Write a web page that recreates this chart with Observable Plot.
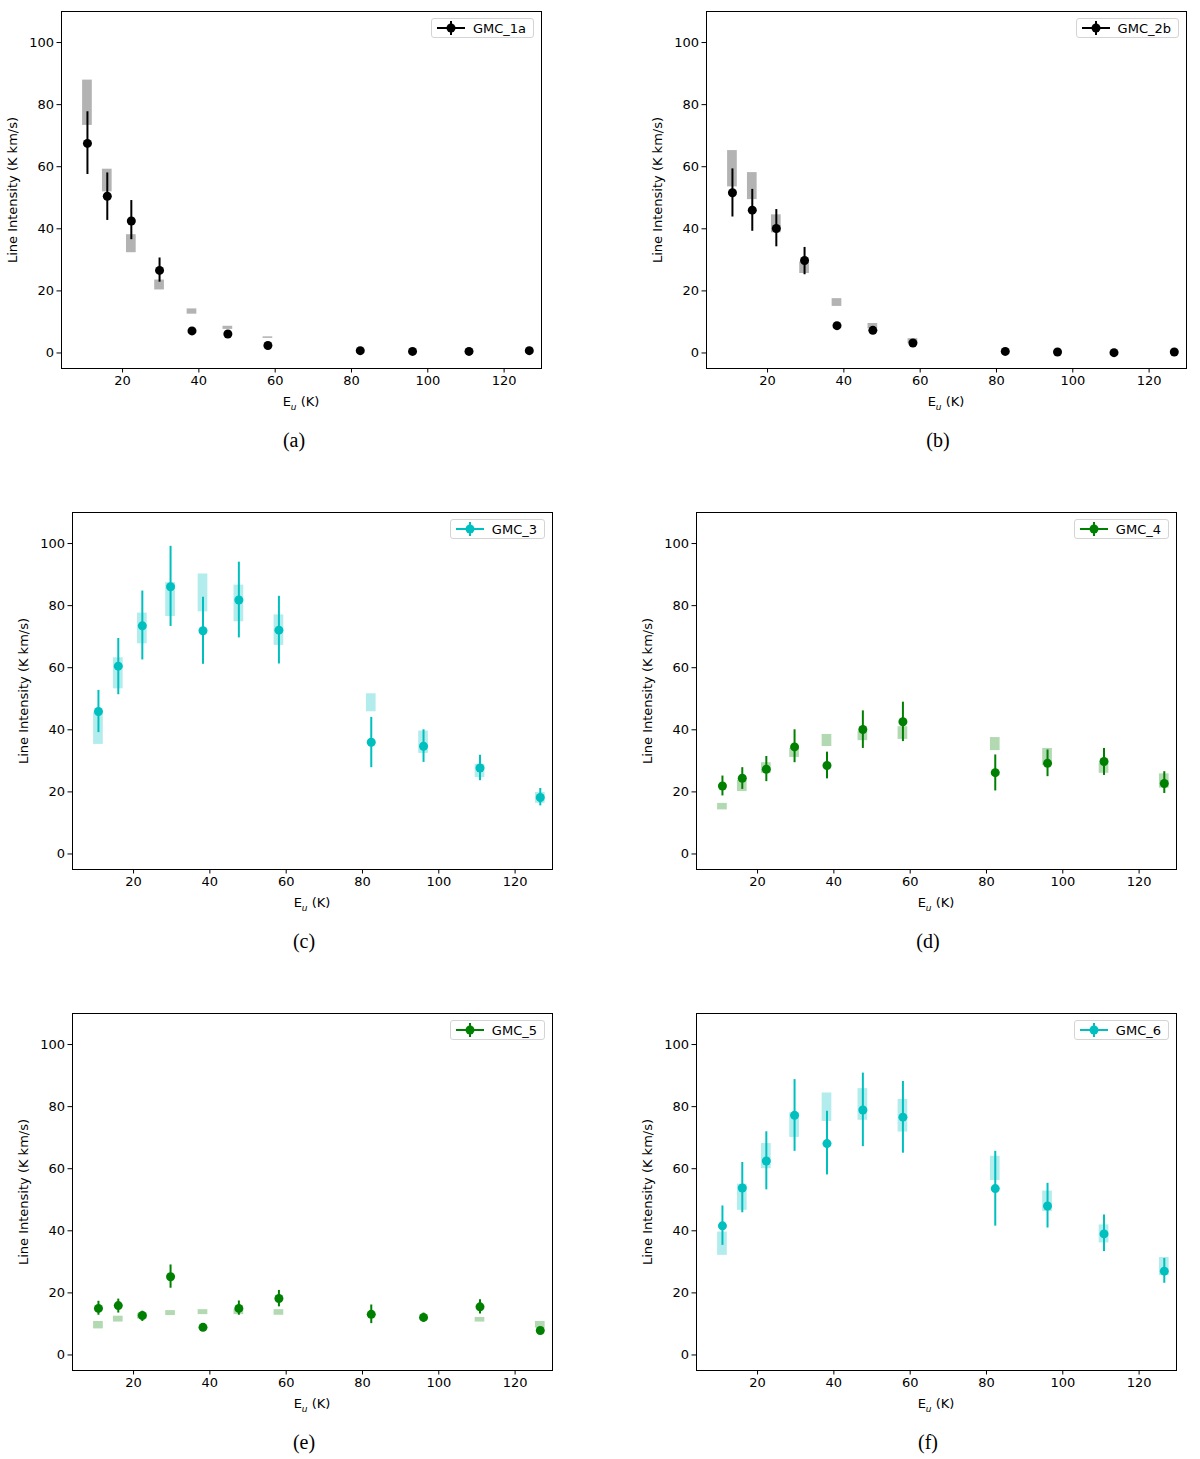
<!DOCTYPE html>
<html>
<head>
<meta charset="utf-8">
<script src="https://cdn.jsdelivr.net/npm/d3@7"></script>
<script src="https://cdn.jsdelivr.net/npm/@observablehq/plot@0.6"></script>
<style>
  body { margin: 0; background: #fff; }
  #fig { position: relative; width: 1200px; height: 1459px; font-family: "DejaVu Sans", sans-serif; color: #000; }
  .panel { position: absolute; }
  .xlab { position: absolute; font-size: 13px; transform: translate(-50%, -50%); white-space: nowrap; }
  .cap { position: absolute; font-family: "Liberation Serif", serif; font-size: 20px; transform: translate(-50%, -50%); }
  .leg { position: absolute; box-sizing: border-box; height: 20px; background: #fff; border: 1px solid #d4d4d4; border-radius: 3px;
         font-size: 13px; display: flex; align-items: center; padding: 0 7px 0 4px; gap: 7px; }
  .leg svg { display: block; }
</style>
</head>
<body>
<div id="fig"></div>
<script>
// energias de los niveles superiores (K)
const eu = [10.8, 16.0, 22.3, 29.7, 38.2, 47.6, 58.1, 82.3, 96.0, 110.8, 126.6]
const xTicks = [20, 40, 60, 80, 100, 120]
const yTicks = [0, 20, 40, 60, 80, 100]

// GMC_1a
const a_I   = [67.5, 50.5, 42.5, 26.6, 7.1, 6.1, 2.4, 0.75, 0.5, 0.5, 0.75]
const a_lo  = [57.5, 42.7, 36.5, 22.8, 6.3, 5.4, 1.9, 0.5, 0.3, 0.3, 0.5]
const a_hi  = [77.7, 58.0, 49.1, 30.6, 7.9, 6.8, 2.9, 1.0, 0.7, 0.7, 1.0]
const a_mlo = [73.3, 51.9, 32.3, 20.3, 12.5, 7.6, 4.7, null, null, null, null]
const a_mhi = [87.9, 59.2, 38.1, 23.5, 14.2, 8.6, 5.2, null, null, null, null]

// GMC_2b
const b_I   = [51.6, 46.0, 40.1, 29.8, 8.8, 7.3, 3.2, 0.5, 0.3, 0.1, 0.3]
const b_lo  = [43.8, 39.2, 34.2, 25.2, 8.0, 6.6, 2.7, 0.3, 0.1, 0.0, 0.1]
const b_hi  = [59.3, 52.7, 46.2, 34.0, 9.6, 8.0, 3.7, 0.7, 0.5, 0.2, 0.5]
const b_mlo = [53.5, 49.4, 38.7, 25.6, 15.0, 7.8, 3.0, null, null, null, null]
const b_mhi = [65.2, 58.1, 44.5, 29.3, 17.5, 9.5, 4.6, null, null, null, null]

// GMC_3
const c_I   = [45.9, 60.5, 73.5, 86.1, 71.9, 81.8, 72.1, 36.0, 34.7, 27.7, 18.2]
const c_lo  = [39.1, 51.3, 62.5, 73.3, 61.1, 69.6, 61.2, 27.8, 29.5, 23.6, 15.5]
const c_hi  = [52.7, 69.4, 84.7, 99.1, 82.7, 94.0, 83.0, 44.0, 40.0, 31.8, 21.1]
const c_mlo = [35.3, 53.2, 67.7, 76.5, 78.0, 74.8, 67.2, 45.8, 32.4, 24.6, 16.3]
const c_mhi = [45.5, 63.2, 77.6, 87.4, 90.2, 86.6, 77.0, 51.6, 39.6, 28.9, 19.8]

// GMC_4
const d_I   = [21.9, 24.4, 27.3, 34.5, 28.5, 40.1, 42.6, 26.2, 29.2, 29.8, 22.7]
const d_lo  = [18.7, 20.8, 23.3, 29.4, 24.2, 34.0, 36.2, 20.3, 24.9, 25.3, 19.5]
const d_hi  = [25.1, 27.8, 31.4, 40.0, 32.8, 46.1, 48.9, 31.9, 33.5, 34.0, 26.5]
const d_mlo = [14.2, 20.1, 26.0, 31.1, 34.6, 36.5, 36.9, 33.3, 28.5, 26.0, 21.2]
const d_mhi = [16.3, 23.8, 29.4, 34.0, 38.5, 39.4, 41.0, 37.5, 34.0, 29.2, 25.8]

// GMC_5
const e_I   = [15.0, 15.9, 12.7, 25.2, 8.9, 15.0, 18.2, 13.1, 12.1, 15.5, 7.9]
const e_lo  = [12.8, 13.5, 10.8, 21.5, 8.2, 12.8, 15.5, 10.1, 10.6, 13.2, 7.2]
const e_hi  = [17.3, 18.0, 14.1, 29.0, 9.6, 17.4, 20.8, 16.1, 13.5, 17.8, 8.6]
const e_mlo = [8.4, 10.6, 11.6, 12.7, 13.0, 13.0, 12.8, null, null, 10.6, 8.7]
const e_mhi = [10.8, 12.5, 13.3, 14.3, 14.6, 14.6, 14.6, null, null, 12.1, 10.8]

// GMC_6
const f_I   = [41.6, 53.8, 62.5, 77.2, 68.1, 78.9, 76.6, 53.6, 48.0, 39.0, 27.0]
const f_lo  = [35.3, 45.8, 53.2, 65.6, 58.0, 67.1, 65.0, 41.5, 40.9, 33.3, 23.1]
const f_hi  = [48.0, 62.0, 71.9, 88.7, 78.5, 90.8, 88.1, 65.6, 55.3, 45.1, 31.1]
const f_mlo = [32.1, 46.6, 60.0, 70.1, 75.2, 75.6, 71.8, 56.2, 46.2, 36.1, 25.6]
const f_mhi = [39.6, 55.0, 68.1, 78.0, 84.4, 85.8, 82.3, 64.0, 52.8, 41.9, 31.4]

const black = "black", green = "#008000", cyan = "#00bfbf"
const blackL = "#b3b3b3", greenL = "#b3d9b3", cyanL = "#b3ecec"

const panels = [
  {name: "GMC_1a", cap: "(a)", left: 0,   top: 0,    ml: 61,  capX: 294, color: black, light: blackL, I: a_I, lo: a_lo, hi: a_hi, mlo: a_mlo, mhi: a_mhi},
  {name: "GMC_2b", cap: "(b)", left: 600, top: 0,    ml: 106, capX: 938, color: black, light: blackL, I: b_I, lo: b_lo, hi: b_hi, mlo: b_mlo, mhi: b_mhi},
  {name: "GMC_3",  cap: "(c)", left: 0,   top: 501,  ml: 72,  capX: 304, color: cyan,  light: cyanL,  I: c_I, lo: c_lo, hi: c_hi, mlo: c_mlo, mhi: c_mhi},
  {name: "GMC_4",  cap: "(d)", left: 600, top: 501,  ml: 96,  capX: 928, color: green, light: greenL, I: d_I, lo: d_lo, hi: d_hi, mlo: d_mlo, mhi: d_mhi},
  {name: "GMC_5",  cap: "(e)", left: 0,   top: 1002, ml: 72,  capX: 304, color: green, light: greenL, I: e_I, lo: e_lo, hi: e_hi, mlo: e_mlo, mhi: e_mhi},
  {name: "GMC_6",  cap: "(f)", left: 600, top: 1002, ml: 96,  capX: 928, color: cyan,  light: cyanL,  I: f_I, lo: f_lo, hi: f_hi, mlo: f_mlo, mhi: f_mhi}
]

const fw = 480, fh = 357, mt = 11
const fig = d3.select('#fig')

panels.forEach(p => {
  const rows = eu.map((x, i) => ({x, I: p.I[i], lo: p.lo[i], hi: p.hi[i], mlo: p.mlo[i], mhi: p.mhi[i]}))
  let chart = Plot.plot({
    width: 600,
    height: mt + fh + 40,
    marginLeft: p.ml,
    marginRight: 600 - p.ml - fw,
    marginTop: mt,
    marginBottom: 40,
    style: {fontFamily: "DejaVu Sans", fontSize: "13px", color: "black", background: "white"},
    x: {domain: [4, 129.8], ticks: xTicks, tickSize: 4.5, tickPadding: 3, label: null},
    y: {domain: [-5, 110], ticks: yTicks, tickSize: 4.5, tickPadding: 3,
        label: "Line Intensity (K km/s)", labelAnchor: "center", labelOffset: 54, labelArrow: "none"},
    marks: [
      Plot.rect(rows, {x1: d => d.x - 1.27, x2: d => d.x + 1.27, y1: "mlo", y2: "mhi", fill: p.light}),
      Plot.ruleX(rows, {x: "x", y1: "lo", y2: "hi", stroke: p.color, strokeWidth: 2}),
      Plot.dot(rows, {x: "x", y: "I", r: 4.5, fill: p.color}),
      Plot.frame({stroke: "black"})
    ]
  })
  fig.append('div').attr('class', 'panel')
    .style('left', p.left + 'px').style('top', p.top + 'px')
    .append(() => chart)

  const frameL = p.left + p.ml, frameT = p.top + mt
  // eje x con subindice
  fig.append('div').attr('class', 'xlab')
    .style('left', (frameL + fw / 2) + 'px').style('top', (frameT + fh + 35) + 'px')
    .html('E<sub style="font-style:italic;font-size:9px">u</sub> (K)')
  // leyenda
  const leg = fig.append('div').attr('class', 'leg')
    .style('right', (1200 - (frameL + fw - 7)) + 'px').style('top', (frameT + 7) + 'px')
  leg.append(() => {
    const s = d3.create('svg').attr('width', 30).attr('height', 16)
    s.append('line').attr('x1', 1).attr('x2', 29).attr('y1', 8).attr('y2', 8).attr('stroke', p.color).attr('stroke-width', 2)
    s.append('line').attr('x1', 15).attr('x2', 15).attr('y1', 1).attr('y2', 15).attr('stroke', p.color).attr('stroke-width', 2)
    s.append('circle').attr('cx', 15).attr('cy', 8).attr('r', 4.5).attr('fill', p.color)
    return s.node()
  })
  leg.append('span').text(p.name)
  // rotulo del panel
  fig.append('div').attr('class', 'cap')
    .style('left', p.capX + 'px').style('top', (p.top + 440) + 'px')
    .text(p.cap)
})
</script>
</body>
</html>
